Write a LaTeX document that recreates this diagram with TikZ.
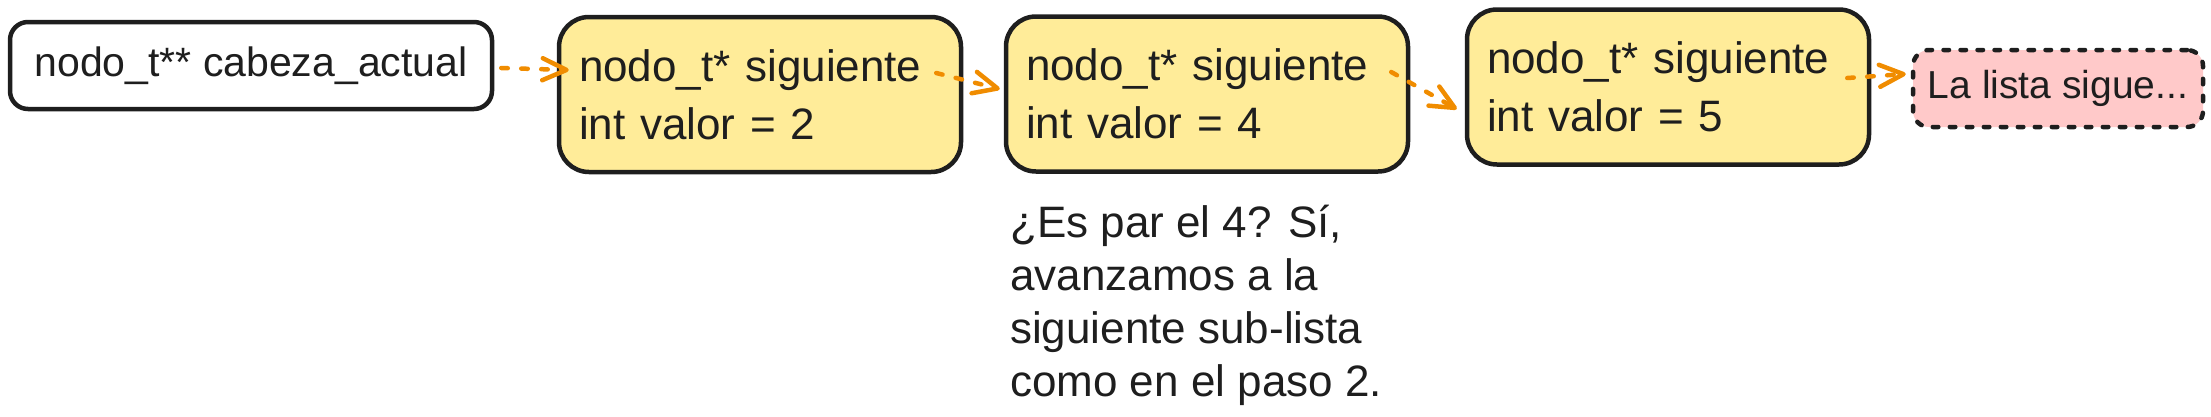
\documentclass[tikz,border=0pt]{standalone}
\usepackage{fontspec}
\setmainfont{Liberation Sans}
\usetikzlibrary{arrows.meta,calc}
\definecolor{ink}{HTML}{1E1E1E}
\definecolor{nodefill}{HTML}{FFEC99}
\definecolor{pinkfill}{HTML}{FFC9C9}
\definecolor{arrowc}{HTML}{F08C00}
\begin{document}
\begin{tikzpicture}[x=1pt,y=-1pt,
  boxbase/.style={draw=ink, line width=4.5pt, align=left, text=ink, inner ysep=0pt,
    font=\fontsize{44}{58}\selectfont},
  headbox/.style={boxbase, fill=white, rounded corners=18pt, inner xsep=0pt,
    minimum width=482pt, minimum height=87pt, font=\fontsize{41}{50}\selectfont},
  listbox/.style={boxbase, fill=nodefill, rounded corners=30pt, inner xsep=20pt,
    text width=362pt, minimum height=155pt},
  morebox/.style={boxbase, fill=pinkfill, rounded corners=16pt, inner xsep=0pt,
    minimum width=290pt, minimum height=77pt, dash pattern=on 5.5pt off 11.5pt, line cap=round,
    font=\fontsize{39}{46}\selectfont},
  note/.style={align=left, text=ink, inner sep=0pt, font=\fontsize{44}{53}\selectfont},
  arr/.style={draw=arrowc, line width=4.5pt, line cap=round, dash pattern=on 6.5pt off 13.5pt,
    -{Straight Barb[length=24pt, width=22pt, line cap=round, line join=round]}}
]
\useasboundingbox (0,0) rectangle (2211,416);

\node[headbox] (head) at (251,65.5) {nodo\_t** cabeza\_actual};
\node[listbox] (n1) at (760,94.5) {nodo\_t* siguiente\\int valor = 2};
\node[listbox] (n2) at (1207,94) {nodo\_t* siguiente\\int valor = 4};
\node[listbox] (n3) at (1668,87) {nodo\_t* siguiente\\int valor = 5};
\node[morebox] (more) at (2058,88.5) {La lista sigue...};

\node[note, anchor=north west] (txt) at (1010,205)
  {¿Es par el 4? Sí,\\avanzamos a la\\siguiente sub-lista\\como en el paso 2.};

\draw[arr] ($(head.east)+(7,2.5)$) -- ($(n1.west)+(12,-24.5)$);
\draw[arr] ($(n1.east)+(-27,-21.5)$) -- ($(n2.west)+(-4,-5)$);
\draw[arr] ($(n2.east)+(-19,-22)$) -- ($(n3.west)+(-8,22)$);
\draw[arr] ($(n3.east)+(-24,-9)$) -- ($(more.west)+(-5,-14.5)$);
\end{tikzpicture}
\end{document}
